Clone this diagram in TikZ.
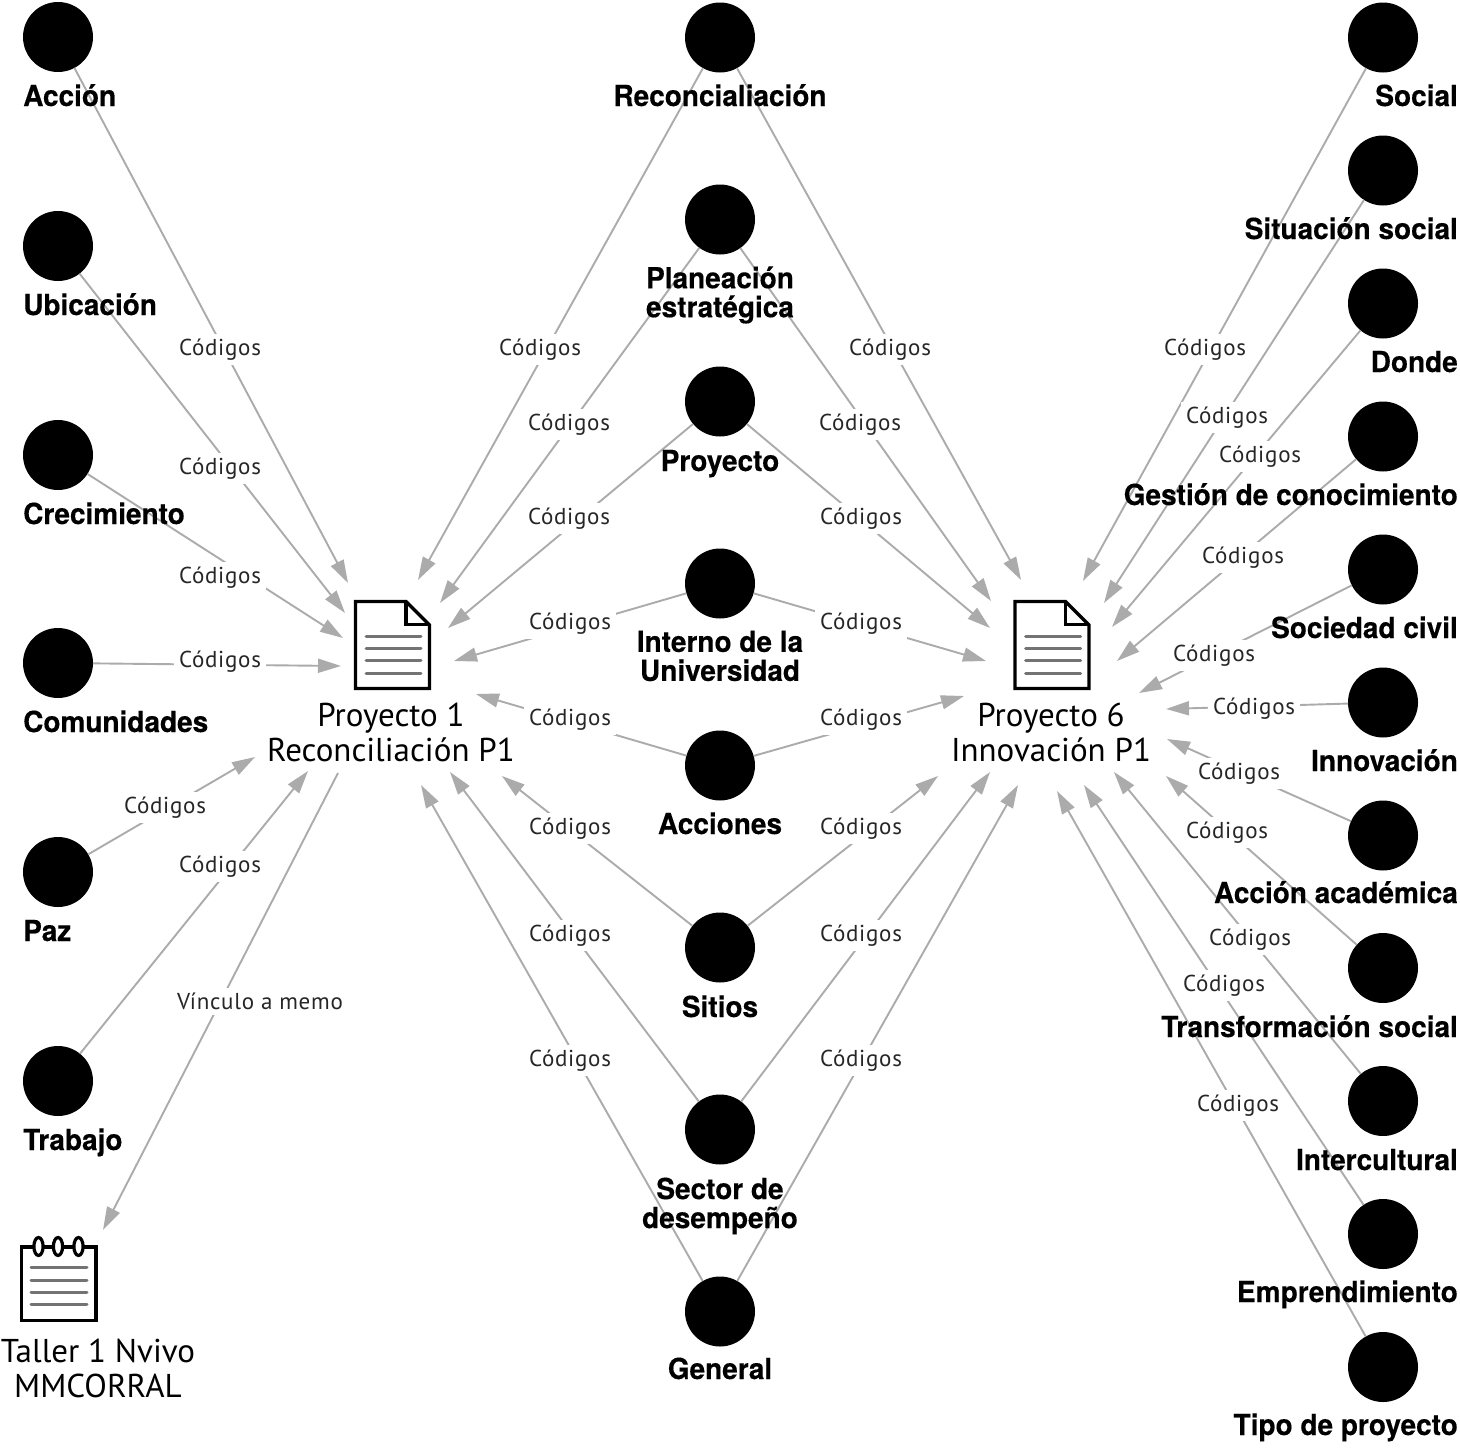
\documentclass[tikz,border=0pt]{standalone}
\usepackage{fontspec}
\setmainfont{PT Sans}
\newfontfamily\heavyf{TeX Gyre Heros}[BoldFont={TeX Gyre Heros Bold},BoldFeatures={FakeStretch=0.965,FakeBold=0.3}]
\newfontfamily\labf{PT Sans}[LetterSpace=3.2]
\usetikzlibrary{arrows.meta}
\tikzset{
  x=1pt,y=-1pt,
  concept/.style={circle,fill=black,minimum size=70pt,inner sep=0pt,outer sep=0pt},
  ttl/.style={font=\fontsize{29}{29}\selectfont\heavyf\bfseries,inner sep=0pt,align=center},
  ttll/.style={ttl,anchor=base west},
  ttlr/.style={ttl,anchor=base east},
  ttlc/.style={ttl,anchor=base},
  lab/.style={font=\fontsize{23}{23}\selectfont\labf,text=black!85,fill=white,inner sep=5pt},
  big/.style={font=\fontsize{33}{35}\selectfont,inner sep=0pt,align=center,text=black},
  conn/.style={draw=black!33,line width=1.9pt,-{Triangle[length=23pt,width=14pt,fill=black!33]}},
  ico/.style={line width=3.4pt,draw=black,line join=miter},
  rul/.style={line width=3pt,draw=black!55,line cap=round},
}
\newcommand{\edg}[6]{% name, source, tipx, tipy, labx, laby
  \coordinate (t#1) at (#3,#4);
  \draw[conn] (#2) -- (t#1);
  \node[lab] (l#1) at (#5,#6+2.5) {Códigos};
}
\begin{document}
\begin{tikzpicture}
\useasboundingbox (0,0) rectangle (1460,1448);
\foreach \n/\y in {a1/37,a2/246,a3/455,a4/663,a5/872,a6/1081}{\node[concept] (\n) at (58,\y) {};}
\foreach \n/\y in {c1/37.5,c2/219.5,c3/401.5,c4/583.5,c5/765.5,c6/947.5,c7/1129.5,c8/1311.5}{\node[concept] (\n) at (720,\y) {};}
\foreach \n/\y in {r1/37.5,r2/170.5,r3/303.5,r4/436.5,r5/569.5,r6/702.5,r7/835.5,r8/968,r9/1101,r10/1234,r11/1367}{\node[concept] (\n) at (1383,\y) {};}
\edg{a}{a1}{348}{583}{220}{347}
\edg{b}{a2}{345}{613}{220}{466}
\edg{c}{a3}{343}{638}{220}{575}
\edg{d}{a4}{341}{666}{220}{659}
\edg{e}{a5}{255}{757}{165}{805}
\edg{f}{a6}{308}{771}{220}{864}
\edg{g}{c1}{418}{580}{540}{347}
\edg{h}{c2}{440}{603}{569}{422}
\edg{i}{c3}{448}{628}{569}{516}
\edg{j}{c4}{454}{661}{570}{621}
\edg{k}{c5}{476}{694}{570}{717}
\edg{l}{c6}{502}{776}{570}{826}
\edg{m}{c7}{450}{772}{570}{933}
\edg{n}{c8}{421}{785}{570}{1058}
\edg{o}{c1}{1021}{580}{890}{347}
\edg{p}{c2}{991}{601}{860}{422}
\edg{q}{c3}{990}{628}{861}{516}
\edg{r}{c4}{986}{661}{861}{621}
\edg{s}{c5}{964}{696}{861}{717}
\edg{t}{c6}{938}{776}{861}{826}
\edg{u}{c7}{990}{772}{861}{933}
\edg{v}{c8}{1018}{785}{861}{1058}
\edg{w}{r1}{1083}{581}{1205}{347}
\edg{x}{r2}{1104}{603}{1227}{415}
\edg{y}{r3}{1112}{627}{1260}{454}
\edg{z}{r4}{1117}{661}{1243}{555}
\edg{aa}{r5}{1139}{693}{1214}{653}
\edg{ab}{r6}{1166}{709}{1254}{706}
\edg{ac}{r7}{1167}{739}{1239}{771}
\edg{ad}{r8}{1166}{776}{1227}{830}
\edg{ae}{r9}{1114}{772}{1250}{937}
\edg{af}{r10}{1084}{785}{1224}{983}
\edg{ag}{r11}{1057}{791}{1238}{1103}
\coordinate (ms) at (338,773);
\coordinate (me) at (103,1230);
\draw[conn] (ms) -- (me);
\node[lab] (lm) at (260,1001.5) {Vínculo a memo};
\node[ttll] (na1) at (23,106) {Acción};
\node[ttll] (na2) at (23,315) {Ubicación};
\node[ttll] (na3) at (23,524) {Crecimiento};
\node[ttll] (na4) at (23,732) {Comunidades};
\node[ttll] (na5) at (23,941) {Paz};
\node[ttll] (na6) at (23,1150) {Trabajo};
\node[ttlc] (nc1) at (720,106) {Reconcialiación};
\node[ttl] (nc2) at (720,295) {Planeación\\estratégica};
\node[ttlc] (nc3) at (720,471) {Proyecto};
\node[ttl] (nc4) at (720,656) {Interno de la\\Universidad};
\node[ttlc] (nc5) at (720,834) {Acciones};
\node[ttlc] (nc6) at (720,1017) {Sitios};
\node[ttl] (nc7) at (720,1206) {Sector de\\desempeño};
\node[ttlc] (nc8) at (720,1379) {General};
\node[ttlr] (nr1) at (1458,106) {Social};
\node[ttlr] (nr2) at (1458,239) {Situación social};
\node[ttlr] (nr3) at (1458,372) {Donde};
\node[ttlr] (nr4) at (1458,505) {Gestión de conocimiento};
\node[ttlr] (nr5) at (1458,638) {Sociedad civil};
\node[ttlr] (nr6) at (1458,771) {Innovación};
\node[ttlr] (nr7) at (1458,903) {Acción académica};
\node[ttlr] (nr8) at (1458,1037) {Transformación social};
\node[ttlr] (nr9) at (1458,1170) {Intercultural};
\node[ttlr] (nr10) at (1458,1302) {Emprendimiento};
\node[ttlr] (nr11) at (1458,1435) {Tipo de proyecto};
\foreach \dx/\n in {0/p1,659.5/p6}{
  \begin{scope}[xshift=\dx pt]
    \draw[ico] (355.5,601.5) -- (406,601.5) -- (429.5,625) -- (429.5,688.5) -- (355.5,688.5) -- cycle;
    \draw[ico] (406,601.5) -- (406,624.5) -- (429.5,624.5);
    \foreach \y in {636,648,660,673}{\draw[rul] (366,\y) -- (421,\y);}
  \end{scope}
}
\node[big] (p1) at (391,732) {Proyecto 1\\Reconciliación P1};
\node[big] (p6) at (1051,732) {Proyecto 6\\Innovación P1};
\draw[ico] (21.5,1247) rectangle (96,1320.5);
\foreach \x in {38.5,58,78.5}{\draw[line width=3.2pt,draw=black,fill=white] (\x,1246.5) ellipse (4.6pt and 9pt);}
\foreach \y in {1267,1280,1292,1304}{\draw[rul] (31,\y) -- (87,\y);}
\node[big] (mm) at (98,1368) {Taller 1 Nvivo\\MMCORRAL};
\end{tikzpicture}
\end{document}
